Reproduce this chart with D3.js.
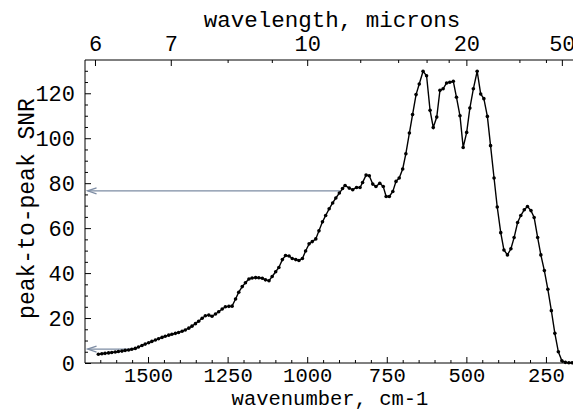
<!DOCTYPE html>
<html><head><meta charset="utf-8">
<script src="https://cdn.jsdelivr.net/npm/d3@7"></script>
<style>html,body{margin:0;padding:0;background:#fff;overflow:hidden}</style>
</head><body>
<svg id="c" width="573" height="411"></svg>
<script>
// ---- data ----
const wavenumber = [1656,1645,1635,1624,1614,1603,1593,1582,1572,1561,1551,1540,1530,1519,1509,1498,1488,1477,1467,1456,1446,1435,1425,1414,1404,1393,1383,1372,1362,1351,1341,1330,1320,1309,1299,1288,1278,1267,1257,1246,1236,1225,1215,1204,1194,1183,1173,1162,1152,1141,1131,1120,1110,1099,1089,1078,1068,1057,1047,1036,1026,1015,1005,994,984,973,963,952,942,
931,920,910,899,889,881,868,857,845,834,826,815,805,794,784,772,761,752,742,731,721,711,700,690,679,669,658,648,636,625,614,604,593,583,573,562,552,541,531,520,510,499,489,478,466,455,445,434,424,413,403,392,382,371,360,350,339,329,318,308,297,287,276,266,255,244,233,222,211,200,189,178,168];
const snr = [3.9,4.1,4.3,4.5,4.7,4.9,5.1,5.3,5.6,5.8,6.1,6.5,7.1,7.8,8.4,9.0,9.6,10.2,10.8,11.4,11.9,12.4,12.8,13.2,13.6,14.1,14.7,15.5,16.4,17.5,18.6,19.9,21.0,21.3,20.8,21.8,22.8,24.0,25.0,25.2,25.3,28.5,31.5,34.0,35.7,37.4,37.8,38.0,37.9,37.7,37.0,36.6,38.5,40.6,42.5,46.0,47.8,47.6,46.5,46.0,45.6,46.5,49.8,53.0,54.0,55.2,58.8,62.8,65.6,
68.6,71.2,73.4,75.6,77.6,79.0,77.8,77.1,78.1,78.1,80.3,83.6,83.3,79.6,78.5,80.0,78.5,74.1,74.1,76.3,80.8,82.3,86.3,93.1,102.3,110.5,119.4,124.1,129.8,127.8,112.4,104.8,109.4,121.3,122.0,124.6,124.9,125.3,118.2,110.0,95.9,102.6,113.4,122.0,129.8,119.7,117.6,109.7,96.7,82.3,69.4,58.0,50.3,48.1,50.8,55.8,62.5,65.6,68.2,69.6,67.8,64.7,55.8,48.1,41.1,32.8,23.3,13.2,5.0,1.0,0.3,0.1,0.1];
const bottomTicks = [1500,1250,1000,750,500,250];
const topMajorMicrons = [6,7,10,20,50];
const topMinorMicrons = [8,9,12,14,16,18,30,40];
const yTicks = [0,20,40,60,80,100,120];
const arrowFrom = [897,1547];   // wavenumber where arrow starts
const arrowTo = [1690,1690];    // wavenumber where arrow head is
const arrowLevel = [76.6,6.2];  // SNR level of arrow

// ---- layout ----
const L=85, R=573, T=60, B=363;
const FONT = "'Liberation Mono','Courier New',monospace";
const svg = d3.select("#c");
const x = d3.scaleLinear().domain([1698,165]).range([L,R]);
const y = d3.scaleLinear().domain([0,134.8]).range([B,T]);

// frame
svg.append("path").attr("d",`M${R+5},${T}H${L}V${B}H${R+5}`)
  .attr("fill","none").attr("stroke","#000").attr("stroke-width",1);

// bottom axis (ticks inward)
const bAx = d3.axisBottom(x).tickValues(bottomTicks).tickSize(-6).tickPadding(4).tickFormat(d3.format("d"));
const gb = svg.append("g").attr("transform",`translate(0,${B})`).call(bAx);
gb.select(".domain").remove();
const bMinor = d3.range(1650,150,-50).filter(d=>d%250!==0);
svg.append("g").attr("transform",`translate(0,${B})`)
  .call(d3.axisBottom(x).tickValues(bMinor).tickSize(-3).tickFormat(""))
  .select(".domain").remove();

// top axis in microns
const topMajor = topMajorMicrons.map(m=>1e4/m);
const tAx = d3.axisTop(x).tickValues(topMajor).tickSize(-6).tickPadding(9)
  .tickFormat((d,i)=>topMajorMicrons[i]);
const gt = svg.append("g").attr("transform",`translate(0,${T})`).call(tAx);
gt.select(".domain").remove();
svg.append("g").attr("transform",`translate(0,${T})`)
  .call(d3.axisTop(x).tickValues(topMinorMicrons.map(m=>1e4/m)).tickSize(-3).tickFormat(""))
  .select(".domain").remove();

// left axis
const lAx = d3.axisLeft(y).tickValues(yTicks).tickSize(-6).tickPadding(10);
const gl = svg.append("g").attr("transform",`translate(${L},0)`).call(lAx);
gl.select(".domain").remove();
svg.append("g").attr("transform",`translate(${L},0)`)
  .call(d3.axisLeft(y).tickValues(d3.range(5,135,5).filter(d=>d%20!==0)).tickSize(-3).tickFormat(""))
  .select(".domain").remove();

svg.selectAll(".tick line").attr("stroke","#000").attr("stroke-width",1);
svg.selectAll(".tick text").attr("font-family",FONT).attr("font-size",22).attr("fill","#000");
gb.selectAll(".tick text").attr("font-size",20.5);

// titles
svg.append("text").attr("x",332).attr("y",27).attr("text-anchor","middle")
  .attr("font-family",FONT).attr("font-size",22.5).text("wavelength, microns");
svg.append("text").attr("x",330).attr("y",404.5).attr("text-anchor","middle")
  .attr("font-family",FONT).attr("font-size",20.5).text("wavenumber, cm-1");
svg.append("text").attr("transform",`translate(34,${(T+B)/2 - 3}) rotate(-90)`).attr("text-anchor","middle")
  .attr("font-family",FONT).attr("font-size",23).text("peak-to-peak SNR");

// arrows
const arrowColor = "#7d8ca3";
arrowLevel.forEach((v,i)=>{
  const x0=x(arrowFrom[i]), x1=x(arrowTo[i]), yy=y(v);
  svg.append("line").attr("x1",x0).attr("x2",x1).attr("y1",yy).attr("y2",yy)
    .attr("stroke",arrowColor).attr("stroke-width",1.2);
  svg.append("path").attr("d",`M${x1+9},${yy-3}L${x1},${yy}L${x1+9},${yy+3}`)
    .attr("fill","none").attr("stroke",arrowColor).attr("stroke-width",1.2);
});

// data line + markers
const pts = wavenumber.map((w,i)=>[w,snr[i]]);
svg.append("path").datum(pts)
  .attr("d",d3.line().x(d=>x(d[0])).y(d=>y(d[1])))
  .attr("fill","none").attr("stroke","#000").attr("stroke-width",1.4);
svg.append("g").selectAll("circle").data(pts).join("circle")
  .attr("cx",d=>x(d[0])).attr("cy",d=>y(d[1])).attr("r",1.8).attr("fill","#000");
</script>
</body></html>
